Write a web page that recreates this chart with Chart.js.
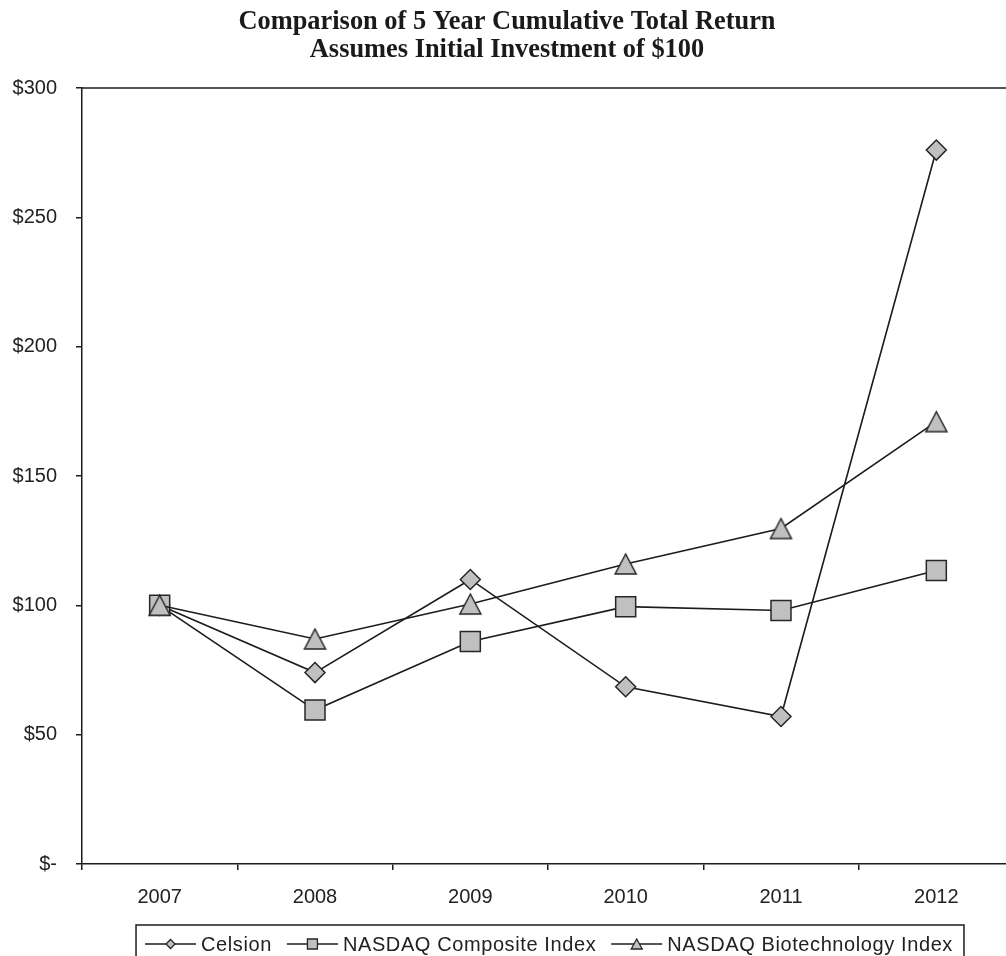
<!DOCTYPE html>
<html><head><meta charset="utf-8">
<script src="https://cdn.jsdelivr.net/npm/chart.js@4/dist/chart.umd.min.js"></script>
<style>
html,body{margin:0;padding:0;background:#fff;overflow:hidden;}
#wrap{width:1014px;height:956px;position:relative;}
</style></head><body>
<div id="wrap"><canvas id="c" width="1014" height="956"></canvas></div>
<script>
const years = ['2007', '2008', '2009', '2010', '2011', '2012'];
const celsion = [100, 74, 110, 68.5, 57, 276];
const nasdaqComposite = [100, 59.5, 86, 99.5, 98, 113.5];
const nasdaqBiotech = [100, 87, 100.5, 116, 129.7, 171];
const seriesNames = ['Celsion', 'NASDAQ Composite Index', 'NASDAQ Biotechnology Index'];
const titleLines = ['Comparison of 5 Year Cumulative Total Return', 'Assumes Initial Investment of $100'];
const yMin = 0, yMax = 300, yStep = 50;

const FILL = '#c0c0c0', EDGE = '#262626', LINE = '#1c1c1c', TEXT = '#222222';
const SANS = '"Liberation Sans", Arial, sans-serif';
const SERIF = '"Liberation Serif", "Times New Roman", serif';

function triangleImage(w, h, pad) {
  const c = document.createElement('canvas');
  c.width = w + pad * 2; c.height = h + pad * 2;
  const g = c.getContext('2d');
  g.beginPath();
  g.moveTo(pad + w / 2, pad);
  g.lineTo(pad + w, pad + h);
  g.lineTo(pad, pad + h);
  g.closePath();
  g.fillStyle = FILL; g.fill();
  g.lineWidth = 1.5; g.strokeStyle = EDGE; g.stroke();
  return c;
}
const triImg = triangleImage(21, 20, 2);

function drawMarker(ctx, kind, x, y) {
  ctx.save();
  ctx.fillStyle = FILL; ctx.strokeStyle = EDGE; ctx.lineWidth = 1.3;
  ctx.beginPath();
  if (kind === 'rectRot') {
    const r = 4.5;
    ctx.moveTo(x - r, y); ctx.lineTo(x, y - r); ctx.lineTo(x + r, y); ctx.lineTo(x, y + r);
  } else if (kind === 'rect') {
    ctx.rect(x - 5, y - 5, 10, 10);
  } else {
    ctx.moveTo(x, y - 5); ctx.lineTo(x + 5.5, y + 5); ctx.lineTo(x - 5.5, y + 5);
  }
  ctx.closePath(); ctx.fill(); ctx.stroke();
  ctx.restore();
}

const frameAndLegend = {
  id: 'frameAndLegend',
  afterDraw(chart) {
    const ctx = chart.ctx, ca = chart.chartArea;
    // top frame line
    ctx.save();
    ctx.strokeStyle = LINE; ctx.lineWidth = 1.5;
    ctx.beginPath(); ctx.moveTo(ca.left, ca.top); ctx.lineTo(chart.width, ca.top); ctx.stroke();
    ctx.restore();

    // legend
    ctx.save();
    ctx.font = '20px ' + SANS;
    try { ctx.letterSpacing = '0.6px'; } catch (e) {}
    const seg = 51, gapText = 5, gapItem = 15, padL = 9, padR = 11;
    const items = chart.data.datasets.map(ds => ({ ds, w: ctx.measureText(ds.label).width }));
    let total = padL + padR;
    items.forEach((it, i) => { total += seg + gapText + it.w + (i < items.length - 1 ? gapItem : 0); });
    const cx = (ca.left + ca.right) / 2 + 2;
    const x0 = cx - total / 2;
    const top = chart.scales.x.bottom + 16;
    const cy = top + 19;
    ctx.strokeStyle = LINE; ctx.lineWidth = 1.5;
    ctx.strokeRect(x0, top, total, 42);
    let x = x0 + padL;
    items.forEach((it, i) => {
      ctx.strokeStyle = LINE; ctx.lineWidth = 1.5;
      ctx.beginPath(); ctx.moveTo(x, cy); ctx.lineTo(x + seg, cy); ctx.stroke();
      const ps = it.ds.pointStyle;
      drawMarker(ctx, typeof ps === 'string' ? ps : 'triangle', x + seg / 2, cy);
      x += seg + gapText;
      ctx.fillStyle = TEXT; ctx.textBaseline = 'middle'; ctx.textAlign = 'left';
      ctx.fillText(it.ds.label, x, cy + 1);
      x += it.w + gapItem;
    });
    ctx.restore();
  }
};

const baseDs = {
  borderColor: LINE, borderWidth: 1.6, pointBackgroundColor: FILL,
  pointBorderColor: EDGE, pointBorderWidth: 1.5, tension: 0, fill: false
};

new Chart(document.getElementById('c'), {
  type: 'line',
  data: {
    labels: years,
    datasets: [
      Object.assign({}, baseDs, { label: seriesNames[0], data: celsion, pointStyle: 'rectRot', pointRadius: 10, pointHoverRadius: 10, order: 3 }),
      Object.assign({}, baseDs, { label: seriesNames[1], data: nasdaqComposite, pointStyle: 'rect', pointRadius: 14.14, pointHoverRadius: 14.14, order: 2 }),
      Object.assign({}, baseDs, { label: seriesNames[2], data: nasdaqBiotech, pointStyle: triImg, pointRadius: 11, pointHoverRadius: 11, order: 1 })
    ]
  },
  options: {
    responsive: false,
    animation: false,
    events: [],
    layout: { autoPadding: false, padding: { left: 0, right: 0, top: 0, bottom: 47 } },
    plugins: {
      legend: { display: false },
      tooltip: { enabled: false },
      title: {
        display: true, text: titleLines, color: '#1a1a1a',
        font: { family: SERIF, size: 26.4, weight: 'bold', lineHeight: 28 / 26.4 },
        padding: { top: 8, bottom: 24 }
      }
    },
    scales: {
      x: {
        offset: true,
        grid: { display: true, drawOnChartArea: false, drawTicks: true, tickLength: 6, offset: true, color: LINE, lineWidth: 1.5 },
        border: { display: true, color: LINE, width: 1.5 },
        ticks: { color: TEXT, font: { family: SANS, size: 20 }, padding: 15, maxRotation: 0, autoSkip: false },
        afterFit(s) { s.height = 45; s.paddingLeft = 0; s.paddingRight = 0; }
      },
      y: {
        min: yMin, max: yMax,
        grid: { display: true, drawOnChartArea: false, drawTicks: true, tickLength: 6, color: LINE, lineWidth: 1.5 },
        border: { display: true, color: LINE, width: 1.5 },
        ticks: {
          stepSize: yStep, color: TEXT, font: { family: SANS, size: 20 }, padding: 19,
          callback: v => v === 0 ? '$-' : '$' + v
        },
        afterFit(s) { s.width = 82; }
      }
    }
  },
  plugins: [frameAndLegend]
});
</script>
</body></html>
